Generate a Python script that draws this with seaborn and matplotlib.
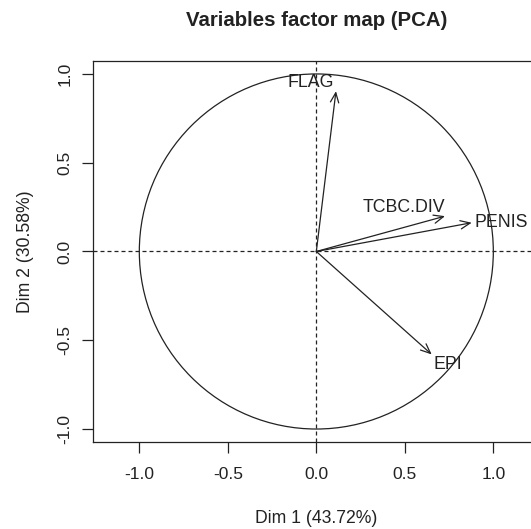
import matplotlib
matplotlib.use("Agg")
import matplotlib.pyplot as plt
from matplotlib.patches import Circle
import seaborn as sns
import pandas as pd

# variable coordinates on the first two dimensions
variables = ["FLAG", "TCBC.DIV", "PENIS", "EPI"]
dim1 = [0.111, 0.727, 0.878, 0.652]
dim2 = [0.903, 0.199, 0.162, -0.580]
xticks = [-1.0, -0.5, 0.0, 0.5, 1.0]
yticks = [-1.0, -0.5, 0.0, 0.5, 1.0]

sns.set_theme(style="ticks")
plt.rcParams["font.family"] = ["Liberation Sans", "DejaVu Sans"]

dane = pd.DataFrame({"var": variables, "Dim1": dim1, "Dim2": dim2})

ink = "#222222"
fig = plt.figure(figsize=(5.31, 5.29), dpi=100)
ax = fig.add_axes([0.1757, 0.1645, 0.840, 0.7202])

ax.add_patch(Circle((0, 0), 1.0, fill=False, edgecolor=ink, linewidth=0.9))
ax.axhline(0, color=ink, linewidth=0.9, linestyle=(0, (3.2, 2.4)))
ax.axvline(0, color=ink, linewidth=0.9, linestyle=(0, (3.2, 2.4)))

# label placement relative to the arrow tip (pixels) and alignment
offsets = {"FLAG": (-25, 9, "center"), "TCBC.DIV": (-41, 9, "center"),
           "PENIS": (3, 0, "left"), "EPI": (16, -10, "center")}

for _, row in dane.iterrows():
    ax.annotate("", xy=(row["Dim1"], row["Dim2"]), xytext=(0, 0),
                arrowprops=dict(arrowstyle="->,head_length=0.7,head_width=0.3",
                                color=ink, linewidth=0.9, shrinkA=0, shrinkB=0,
                                mutation_scale=10))
    dx, dy, ha = offsets[row["var"]]
    ax.annotate(row["var"], xy=(row["Dim1"], row["Dim2"]), xytext=(dx, dy),
                textcoords="offset pixels", ha=ha, va="center",
                fontsize=12.8, color=ink)

ax.set_xlim(-1.26, 1.26)
ax.set_ylim(-1.073, 1.073)
ax.set_xticks(xticks)
ax.set_yticks(yticks)
ax.set_xticklabels([f"{t:.1f}" for t in xticks])
ax.set_yticklabels([f"{t:.1f}" for t in yticks], rotation=90, va="center")
ax.tick_params(axis="both", length=8, width=0.9, color=ink, labelsize=12.5,
               labelcolor=ink)
ax.tick_params(axis="x", pad=10)
ax.tick_params(axis="y", pad=7)
for s in ax.spines.values():
    s.set_linewidth(0.9)
    s.set_color(ink)

ax.set_xlabel("Dim 1 (43.72%)", fontsize=12.7, color=ink, labelpad=20)
ax.set_ylabel("Dim 2 (30.58%)", fontsize=12.7, color=ink, labelpad=17)
ax.set_title("Variables factor map (PCA)", fontsize=14.7, fontweight="bold",
             color=ink, pad=25)

fig.savefig("out.png", dpi=100)
